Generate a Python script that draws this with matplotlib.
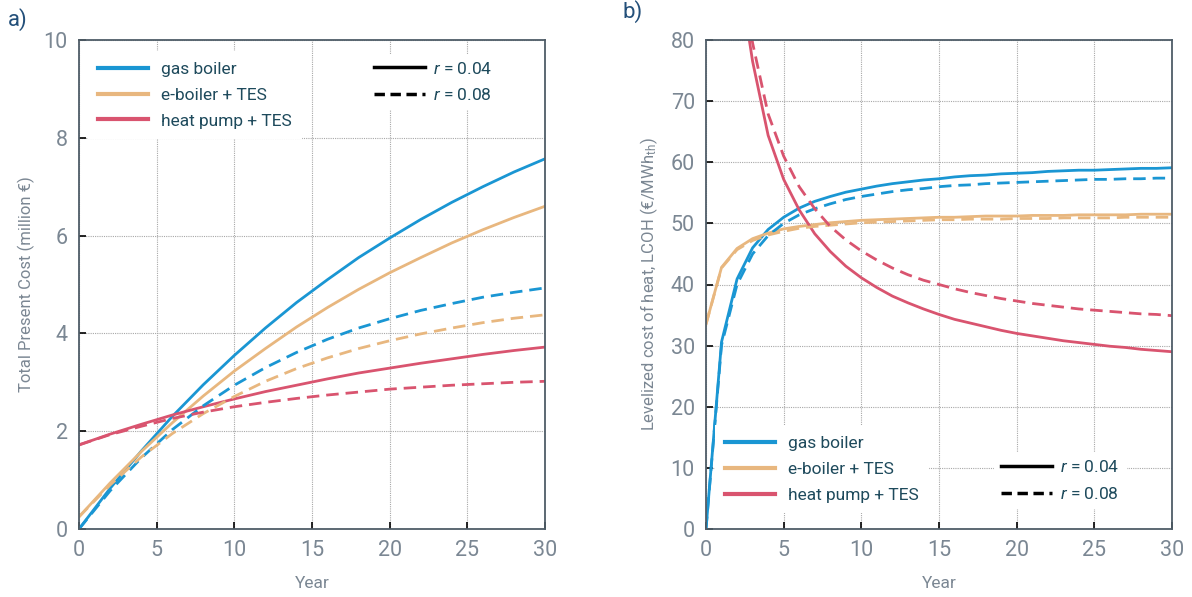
#!/usr/bin/env python3
import matplotlib
matplotlib.use('Agg')
import matplotlib.pyplot as plt
from matplotlib.lines import Line2D

# ---- data ----
years_a = [0, 2, 4, 6, 8, 10, 12, 14, 16, 18, 20, 22, 24, 26, 28, 30]
tpc_gas_04 = [0.00, 0.83, 1.59, 2.30, 2.95, 3.55, 4.11, 4.63, 5.10, 5.55, 5.95, 6.33, 6.68, 7.00, 7.30, 7.57]
tpc_gas_08 = [0.00, 0.78, 1.45, 2.03, 2.52, 2.94, 3.30, 3.61, 3.88, 4.11, 4.30, 4.47, 4.61, 4.74, 4.84, 4.93]
tpc_eb_04 = [0.25, 0.94, 1.58, 2.17, 2.72, 3.23, 3.69, 4.13, 4.53, 4.90, 5.24, 5.55, 5.85, 6.12, 6.37, 6.60]
tpc_eb_08 = [0.25, 0.90, 1.47, 1.95, 2.36, 2.71, 3.02, 3.28, 3.50, 3.69, 3.85, 3.99, 4.11, 4.22, 4.31, 4.38]
tpc_hp_04 = [1.72, 1.94, 2.14, 2.33, 2.50, 2.66, 2.81, 2.94, 3.07, 3.19, 3.29, 3.39, 3.48, 3.57, 3.65, 3.72]
tpc_hp_08 = [1.72, 1.93, 2.10, 2.26, 2.39, 2.50, 2.59, 2.67, 2.74, 2.80, 2.86, 2.90, 2.94, 2.97, 3.00, 3.02]

years_b = list(range(31))
lcoh_gas_04 = [0.0, 30.6, 40.9, 46.0, 49.0, 51.0, 52.5, 53.6, 54.4, 55.1, 55.6, 56.1, 56.5, 56.8, 57.1, 57.3,
               57.6, 57.8, 57.9, 58.1, 58.2, 58.3, 58.5, 58.6, 58.7, 58.7, 58.8, 58.9, 59.0, 59.0, 59.1]
lcoh_gas_08 = [0.0, 30.1, 40.0, 45.0, 48.0, 50.0, 51.4, 52.4, 53.2, 53.9, 54.4, 54.8, 55.2, 55.5, 55.7, 56.0,
               56.2, 56.3, 56.5, 56.6, 56.7, 56.8, 56.9, 57.0, 57.1, 57.2, 57.2, 57.3, 57.3, 57.4, 57.4]
lcoh_eb_04 = [33.5, 42.8, 45.9, 47.5, 48.4, 49.1, 49.5, 49.8, 50.1, 50.3, 50.5, 50.6, 50.7, 50.8, 50.9, 51.0,
              51.0, 51.1, 51.2, 51.2, 51.2, 51.3, 51.3, 51.3, 51.4, 51.4, 51.4, 51.4, 51.5, 51.5, 51.5]
lcoh_eb_08 = [33.5, 42.7, 45.7, 47.2, 48.1, 48.7, 49.2, 49.5, 49.7, 49.9, 50.1, 50.2, 50.3, 50.4, 50.5, 50.6,
              50.6, 50.7, 50.7, 50.7, 50.8, 50.8, 50.8, 50.9, 50.9, 50.9, 50.9, 51.0, 51.0, 51.0, 51.0]
lcoh_hp_04 = [236.0, 128.9, 93.0, 76.5, 64.4, 57.2, 52.2, 48.3, 45.4, 43.0, 41.1, 39.5, 38.1, 37.0, 36.0, 35.1,
              34.3, 33.7, 33.1, 32.5, 32.0, 31.6, 31.2, 30.8, 30.5, 30.2, 29.9, 29.7, 29.4, 29.2, 29.0]
lcoh_hp_08 = [236.0, 130.9, 95.8, 79.5, 67.9, 61.0, 56.0, 52.4, 49.5, 47.3, 45.5, 44.0, 42.7, 41.6, 40.7, 40.0,
              39.3, 38.7, 38.2, 37.7, 37.3, 36.9, 36.6, 36.3, 36.0, 35.8, 35.6, 35.4, 35.2, 35.1, 34.9]

tech_labels = ['gas boiler', 'e-boiler + TES', 'heat pump + TES']
rate_labels = ['$r$ = 0.04', '$r$ = 0.08']

# ---- style ----
plt.rcParams['font.family'] = ['Roboto', 'DejaVu Sans']
plt.rcParams['mathtext.fontset'] = 'custom'
plt.rcParams['mathtext.rm'] = 'Roboto'
plt.rcParams['mathtext.it'] = 'Roboto:italic'

c_gas = '#1a96d3'
c_eb = '#e8b77f'
c_hp = '#d9546f'
colors = [c_gas, c_eb, c_hp]
spine_col = '#4f5d68'
tick_col = '#7b8793'
text_col = '#1e4a5c'
lw = 2.0
dash = (0, (4.5, 2.5))

fig = plt.figure(figsize=(11.92, 5.97), dpi=100)
ax1 = fig.add_axes([79 / 1192, 68 / 597, 466 / 1192, 489 / 597])
ax2 = fig.add_axes([706 / 1192, 68 / 597, 466 / 1192, 489 / 597])


def style_axis(ax):
  for sp in ax.spines.values():
    sp.set_color(spine_col)
    sp.set_linewidth(1.3)
  ax.tick_params(direction='in', length=5, width=1.2, color='black',
                 labelsize=15.5, labelcolor=tick_col, pad=8)
  ax.grid(True, color='#a8a8a8', linestyle=(0, (1, 1)), linewidth=0.8)
  ax.set_axisbelow(True)
  ax.set_xlim(0, 30)
  ax.set_xticks(range(0, 31, 5))
  ax.set_xlabel('Year', fontsize=12.5, color=tick_col, labelpad=11)


def add_legends(ax, anchor1, anchor2):
  h1 = [Line2D([], [], color=c, lw=3) for c in colors]
  leg1 = ax.legend(h1, tech_labels, loc='upper left', bbox_to_anchor=anchor1, fontsize=12.5,
                   handlelength=2.9, labelspacing=0.62, handletextpad=0.7,
                   frameon=True, framealpha=1, edgecolor='none', borderpad=0.6, fancybox=False)
  for t in leg1.get_texts():
    t.set_color(text_col)
  ax.add_artist(leg1)
  h2 = [Line2D([], [], color='black', lw=2.5, ls='-'),
        Line2D([], [], color='black', lw=2.5, ls=(0, (3, 1.6)))]
  leg2 = ax.legend(h2, rate_labels, loc='upper left', bbox_to_anchor=anchor2, fontsize=12.5,
                   handlelength=2.9, labelspacing=0.62, handletextpad=0.5,
                   frameon=True, framealpha=1, edgecolor='none', borderpad=0.4, fancybox=False)
  for t in leg2.get_texts():
    t.set_color(text_col)


# ---- a) total present cost ----
style_axis(ax1)
ax1.plot(years_a, tpc_gas_04, color=c_gas, lw=lw)
ax1.plot(years_a, tpc_eb_04, color=c_eb, lw=lw)
ax1.plot(years_a, tpc_hp_04, color=c_hp, lw=lw)
ax1.plot(years_a, tpc_gas_08, color=c_gas, lw=lw, ls=dash)
ax1.plot(years_a, tpc_eb_08, color=c_eb, lw=lw, ls=dash)
ax1.plot(years_a, tpc_hp_08, color=c_hp, lw=lw, ls=dash)
ax1.set_ylim(0, 10)
ax1.set_yticks(range(0, 11, 2))
ax1.set_ylabel('Total Present Cost (million €)', fontsize=12, color=tick_col, labelpad=6)
add_legends(ax1, (0.0, 0.995), (0.6, 0.99))

# ---- b) LCOH ----
style_axis(ax2)
ax2.plot(years_b, lcoh_gas_04, color=c_gas, lw=lw)
ax2.plot(years_b, lcoh_eb_04, color=c_eb, lw=lw)
ax2.plot(years_b, lcoh_hp_04, color=c_hp, lw=lw)
ax2.plot(years_b, lcoh_gas_08, color=c_gas, lw=lw, ls=dash)
ax2.plot(years_b, lcoh_eb_08, color=c_eb, lw=lw, ls=dash)
ax2.plot(years_b, lcoh_hp_08, color=c_hp, lw=lw, ls=dash)
ax2.set_ylim(0, 80)
ax2.set_yticks(range(0, 81, 10))
ax2.set_ylabel('Levelized cost of heat, LCOH (€/MWh$_{\\rm th}$)', fontsize=12,
               color=tick_col, labelpad=8)
add_legends(ax2, (0.0, 0.23), (0.6, 0.175))

fig.text(8 / 1192, 1 - 20 / 597, 'a)', fontsize=16, color='#24507a', va='center')
fig.text(622 / 1192, 1 - 12 / 597, 'b)', fontsize=16, color='#24507a', va='center')

fig.savefig('out.png', dpi=100)
